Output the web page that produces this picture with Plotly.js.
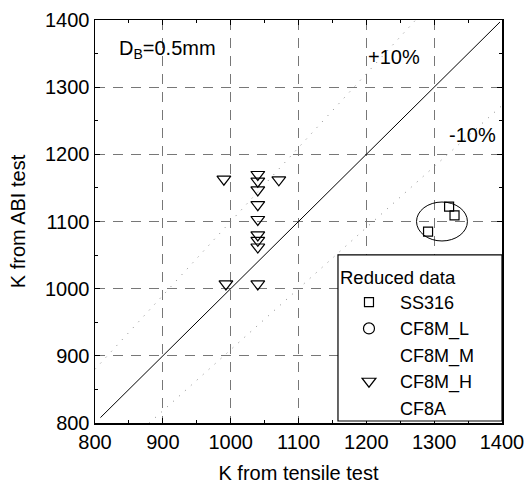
<!DOCTYPE html>
<html>
<head>
<meta charset="utf-8">
<script src="https://cdn.plot.ly/plotly-3.0.1.min.js"></script>
<style>
  html, body { margin: 0; padding: 0; background: #fff; }
  #chart { width: 528px; height: 492px; }
</style>
</head>
<body>
<div id="chart"></div>
<script>
// Reduced data: K from tensile test (x) vs K from ABI test (y)
const ss316X = [1322, 1330, 1291];
const ss316Y = [1122, 1109, 1085];

const cf8mHX = [990, 1040, 1040, 1040, 1040, 1040, 1040, 1040, 1040, 1071, 993, 1040];
const cf8mHY = [1163, 1170, 1160, 1147, 1125, 1103, 1080, 1072, 1062, 1162, 1007, 1007];

// series with no points drawn
const cf8mLX = [null], cf8mLY = [null];
const cf8mMX = [null], cf8mMY = [null];
const cf8aX = [null], cf8aY = [null];

// reference lines: 1:1 and +/-10 %
const oneToOneX = [808, 1397];
const oneToOneY = [808, 1397];
const plus10X = [800, 1272.7];
const plus10Y = [880, 1400];
const minus10X = [880, 1400];
const minus10Y = [800, 1272.7];

// ellipse around the SS316 group
const ringX = [1274, 1349];
const ringY = [1071, 1129];

const axisTicks = [800, 900, 1000, 1100, 1200, 1300, 1400];

const FONT = 'Liberation Sans, Arial, sans-serif';

const traces = [
  { x: oneToOneX, y: oneToOneY, mode: 'lines', showlegend: false, hoverinfo: 'skip',
    line: { color: '#000', width: 1 } },
  { x: plus10X, y: plus10Y, mode: 'lines', showlegend: false, hoverinfo: 'skip',
    line: { color: '#888', width: 1, dash: '1px,7px' } },
  { x: minus10X, y: minus10Y, mode: 'lines', showlegend: false, hoverinfo: 'skip',
    line: { color: '#888', width: 1, dash: '1px,7px' } },
  { x: ss316X, y: ss316Y, name: 'SS316', mode: 'markers',
    marker: { symbol: 'square-open', size: 9, color: '#000', line: { width: 1.2 } } },
  { x: cf8mLX, y: cf8mLY, name: 'CF8M_L', mode: 'markers',
    marker: { symbol: 'circle-open', size: 11, color: '#000', line: { width: 1.2 } } },
  { x: cf8mMX, y: cf8mMY, name: 'CF8M_M', mode: 'markers',
    marker: { symbol: 'circle', size: 10, color: 'rgba(0,0,0,0)', line: { width: 0 } } },
  { x: cf8mHX, y: cf8mHY, name: 'CF8M_H', mode: 'markers',
    marker: { symbol: 'triangle-down-open', size: 12, color: '#000', line: { width: 1.2 } } },
  { x: cf8aX, y: cf8aY, name: 'CF8A', mode: 'markers',
    marker: { symbol: 'circle', size: 10, color: 'rgba(0,0,0,0)', line: { width: 0 } } }
];

const axisCommon = {
  range: [800, 1400],
  tickvals: axisTicks,
  ticktext: axisTicks.map(String),
  ticks: 'inside',
  ticklen: 5,
  tickwidth: 1,
  tickcolor: '#000',
  minor: { dtick: 50, ticks: 'inside', ticklen: 3, tickcolor: '#000', showgrid: false },
  showline: true,
  linecolor: '#000',
  linewidth: 1.5,
  mirror: 'ticks',
  showgrid: true,
  gridcolor: '#777',
  gridwidth: 1,
  griddash: '10px,8px',
  zeroline: false,
  tickfont: { family: FONT, size: 20, color: '#000' }
};

// legend frame spans from the plot's right edge down to just above the x axis
const legendLeft = 0.597, legendTop = 0.417, legendBottom = 0.005;

const layout = {
  width: 528,
  height: 492,
  margin: { l: 95, r: 26, t: 20, b: 69 },
  paper_bgcolor: '#fff',
  plot_bgcolor: '#fff',
  font: { family: FONT, color: '#000', size: 20 },
  xaxis: Object.assign({}, axisCommon, {
    title: { text: 'K from tensile test', font: { family: FONT, size: 20 }, standoff: 14 }
  }),
  yaxis: Object.assign({}, axisCommon, {
    title: { text: 'K from ABI test', font: { family: FONT, size: 20 }, standoff: 14 }
  }),
  legend: {
    title: { text: 'Reduced data', font: { family: FONT, size: 18.5 } },
    font: { family: FONT, size: 18, color: '#000' },
    x: legendLeft, y: legendTop - 0.012, xanchor: 'left', yanchor: 'top',
    bgcolor: 'rgba(0,0,0,0)', borderwidth: 0,
    itemwidth: 52, tracegroupgap: 0
  },
  shapes: [
    { type: 'circle', xref: 'x', yref: 'y',
      x0: ringX[0], x1: ringX[1], y0: ringY[0], y1: ringY[1],
      line: { color: '#000', width: 1 } },
    { type: 'rect', xref: 'paper', yref: 'paper', layer: 'above',
      x0: legendLeft, x1: 1, y0: legendBottom, y1: legendTop,
      fillcolor: '#fff', line: { color: '#000', width: 1.2 } }
  ],
  annotations: [
    { xref: 'paper', yref: 'paper', x: 0.054, y: 0.928, xanchor: 'left', yanchor: 'middle',
      text: 'D<sub>B</sub>=0.5mm', showarrow: false, font: { family: FONT, size: 20 } },
    { xref: 'x', yref: 'y', x: 1200, y: 1345, xanchor: 'left', yanchor: 'middle',
      text: '+10%', showarrow: false, font: { family: FONT, size: 20 } },
    { xref: 'x', yref: 'y', x: 1319, y: 1229, xanchor: 'left', yanchor: 'middle',
      text: '-10%', showarrow: false, font: { family: FONT, size: 20 } }
  ]
};

Plotly.newPlot('chart', traces, layout, { staticPlot: true, displayModeBar: false });
</script>
</body>
</html>
